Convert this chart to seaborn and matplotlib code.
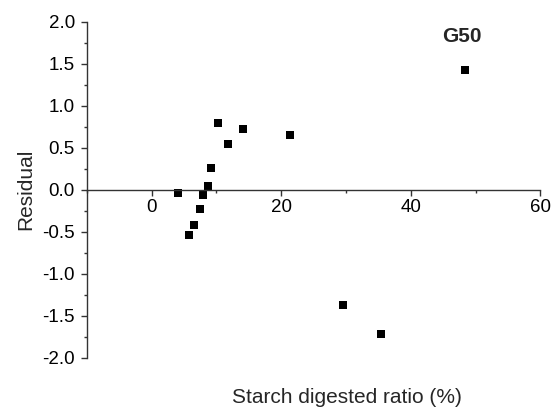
import numpy as np
from matplotlib import pyplot as plt
from matplotlib.ticker import MultipleLocator, FormatStrFormatter
import seaborn as sns
import pandas as pd

# values
starch_ratio = [4.1, 5.8, 6.6, 7.4, 8.0, 8.7, 9.1, 10.3, 11.8, 14.1, 21.3, 29.6, 35.4, 48.4]
residual = [-0.04, -0.54, -0.42, -0.23, -0.06, 0.04, 0.26, 0.79, 0.54, 0.72, 0.655, -1.37, -1.72, 1.43]
label_text = "G50"

df = pd.DataFrame({"ratio": starch_ratio, "residual": residual})

sns.set_style("ticks")
plt.rcParams['font.family'] = ['Liberation Sans', 'DejaVu Sans']
plt.rcParams['axes.unicode_minus'] = False

fig = plt.figure(figsize=(5.6, 4.13), dpi=100)
ax = fig.add_axes([0.155, 0.134, 0.81, 0.813])

sns.scatterplot(data=df, x="ratio", y="residual", marker="s", s=30,
                color="black", linewidth=0, ax=ax)

ax.set_xlim(-10, 60)
ax.set_ylim(-2, 2)
ax.xaxis.set_major_locator(MultipleLocator(20))
ax.xaxis.set_minor_locator(MultipleLocator(10))
ax.yaxis.set_major_locator(MultipleLocator(0.5))
ax.yaxis.set_minor_locator(MultipleLocator(0.25))
ax.yaxis.set_major_formatter(FormatStrFormatter('%.1f'))

# x axis crosses at residual = 0
ax.spines['bottom'].set_position(('data', 0))
ax.spines['top'].set_visible(False)
ax.spines['right'].set_visible(False)
for sp in ['bottom', 'left']:
    ax.spines[sp].set_color('#333333')
    ax.spines[sp].set_linewidth(1.0)

ax.tick_params(axis='both', which='major', direction='out', length=4, width=1,
               color='#333333', labelsize=13.5, labelcolor='black')
ax.tick_params(axis='both', which='minor', direction='out', length=2, width=1,
               color='#333333')
ax.tick_params(axis='y', which='major', pad=4.5)
ax.tick_params(axis='x', which='major', pad=3)

ax.set_xlabel("Starch digested ratio (%)", fontsize=15)
ax.xaxis.set_label_coords(0.573, -0.090)
ax.set_ylabel("Residual", fontsize=15)
ax.yaxis.set_label_coords(-0.113, 0.5)

ax.text(47.9, 1.83, label_text, fontsize=15, fontweight='bold',
        ha='center', va='center')

plt.savefig('out.png', dpi=100)
